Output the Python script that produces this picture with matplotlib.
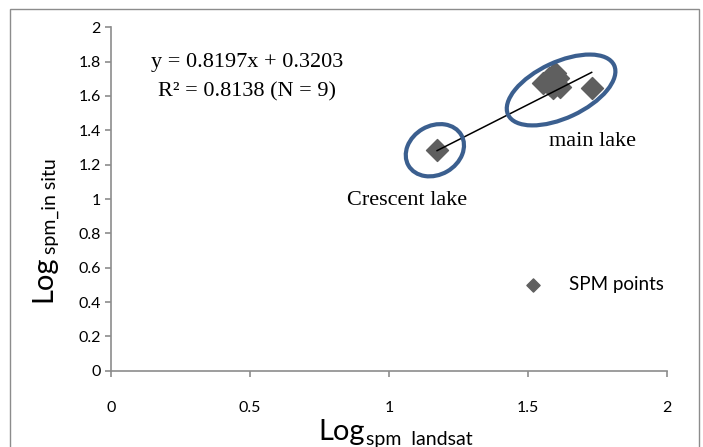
import numpy as np
import matplotlib
matplotlib.use("Agg")
import matplotlib.pyplot as plt
from matplotlib.patches import Ellipse, Rectangle
from matplotlib.transforms import ScaledTranslation

# Log SPM values (landsat vs in situ)
log_spm_landsat = [1.173, 1.554, 1.576, 1.579, 1.590, 1.597, 1.608, 1.615, 1.729]
log_spm_insitu = [1.285, 1.676, 1.705, 1.664, 1.646, 1.734, 1.705, 1.652, 1.645]

slope = 0.8197
intercept = 0.3203
eq_text = "y = 0.8197x + 0.3203"
r2_text = "R\u00b2 = 0.8138 (N = 9)"

x_ticks = [0, 0.5, 1, 1.5, 2]
y_ticks = [0, 0.2, 0.4, 0.6, 0.8, 1, 1.2, 1.4, 1.6, 1.8, 2]

plt.rcParams['font.family'] = ['Lato', 'DejaVu Sans']

fig = plt.figure(figsize=(7.03, 4.47), dpi=100)
ax = fig.add_axes([0.1579, 0.1707, 0.7909, 0.7682])

# chart border
fig.patches.append(Rectangle((10 / 703, -0.01), 689 / 703, 1 - 9 / 447 + 0.01,
                             transform=fig.transFigure, fill=False,
                             edgecolor='#8c8c8c', linewidth=1))

ax.scatter(log_spm_landsat, log_spm_insitu, marker='D', s=125, color='#5f5f5f',
           zorder=3, label='SPM points')

xl = np.array([min(log_spm_landsat), max(log_spm_landsat)])
ax.plot(xl, slope * xl + intercept, color='black', linewidth=1.1, zorder=4)

# ellipses drawn in inches so the tilt is not distorted by the axis scales
blue = '#3b5f8f'
for (cx, cy, w, h, ang) in [(1.619, 1.635, 1.17, 0.56, 25), (1.165, 1.284, 0.61, 0.49, 30)]:
    e = Ellipse((0, 0), w, h, angle=ang, fill=False, edgecolor=blue, linewidth=3,
                transform=fig.dpi_scale_trans + ScaledTranslation(cx, cy, ax.transData),
                zorder=5)
    ax.add_artist(e)

serif = 'Liberation Serif'
ax.text(0.49, 1.795, eq_text, family=serif, fontsize=16, ha='center', va='center')
ax.text(0.49, 1.625, r2_text, family=serif, fontsize=16, ha='center', va='center')
ax.text(1.731, 1.335, "main lake", family=serif, fontsize=16, ha='center', va='center')
ax.text(1.065, 0.99, "Crescent lake", family=serif, fontsize=16, ha='center', va='center')

ax.set_xlim(0, 2)
ax.set_ylim(0, 2)
ax.set_xticks(x_ticks)
ax.set_xticklabels(['0', '0.5', '1', '1.5', '2'])
ax.set_yticks(y_ticks)
ax.set_yticklabels(['0', '0.2', '0.4', '0.6', '0.8', '1', '1.2', '1.4', '1.6', '1.8', '2'])

for s in ['top', 'right']:
    ax.spines[s].set_visible(False)
for s in ['left', 'bottom']:
    ax.spines[s].set_color('#8c8c8c')
    ax.spines[s].set_linewidth(1.2)
ax.tick_params(axis='both', direction='out', length=4, width=1.2, color='#8c8c8c',
               labelsize=11.5)
ax.tick_params(axis='x', pad=18)

# axis titles: big "Log" with a subscript in a separate text
xlog = fig.text(318 / 703, 1 - 440 / 447, "Log", fontsize=21, ha='left', va='baseline')
fig.canvas.draw()
ax.annotate("spm  landsat", xy=(1, 0), xycoords=xlog, xytext=(1, 0),
            textcoords='offset points', fontsize=14, ha='left', va='baseline',
            annotation_clip=False)

ylog = fig.text(51 / 703, 1 - 302 / 447, "Log", fontsize=21, rotation=90,
                rotation_mode='anchor', ha='left', va='baseline')
ax.annotate("spm_in situ", xy=(1, 1), xycoords=ylog, xytext=(0, 1),
            textcoords='offset points', fontsize=14, rotation=90,
            rotation_mode='anchor', ha='left', va='baseline', annotation_clip=False)

ax.legend(loc='center left', bbox_to_anchor=(0.695, 0.25), frameon=False,
          fontsize=13.5, markerscale=0.6, handletextpad=0.9)

fig.savefig('out.png', dpi=100)
